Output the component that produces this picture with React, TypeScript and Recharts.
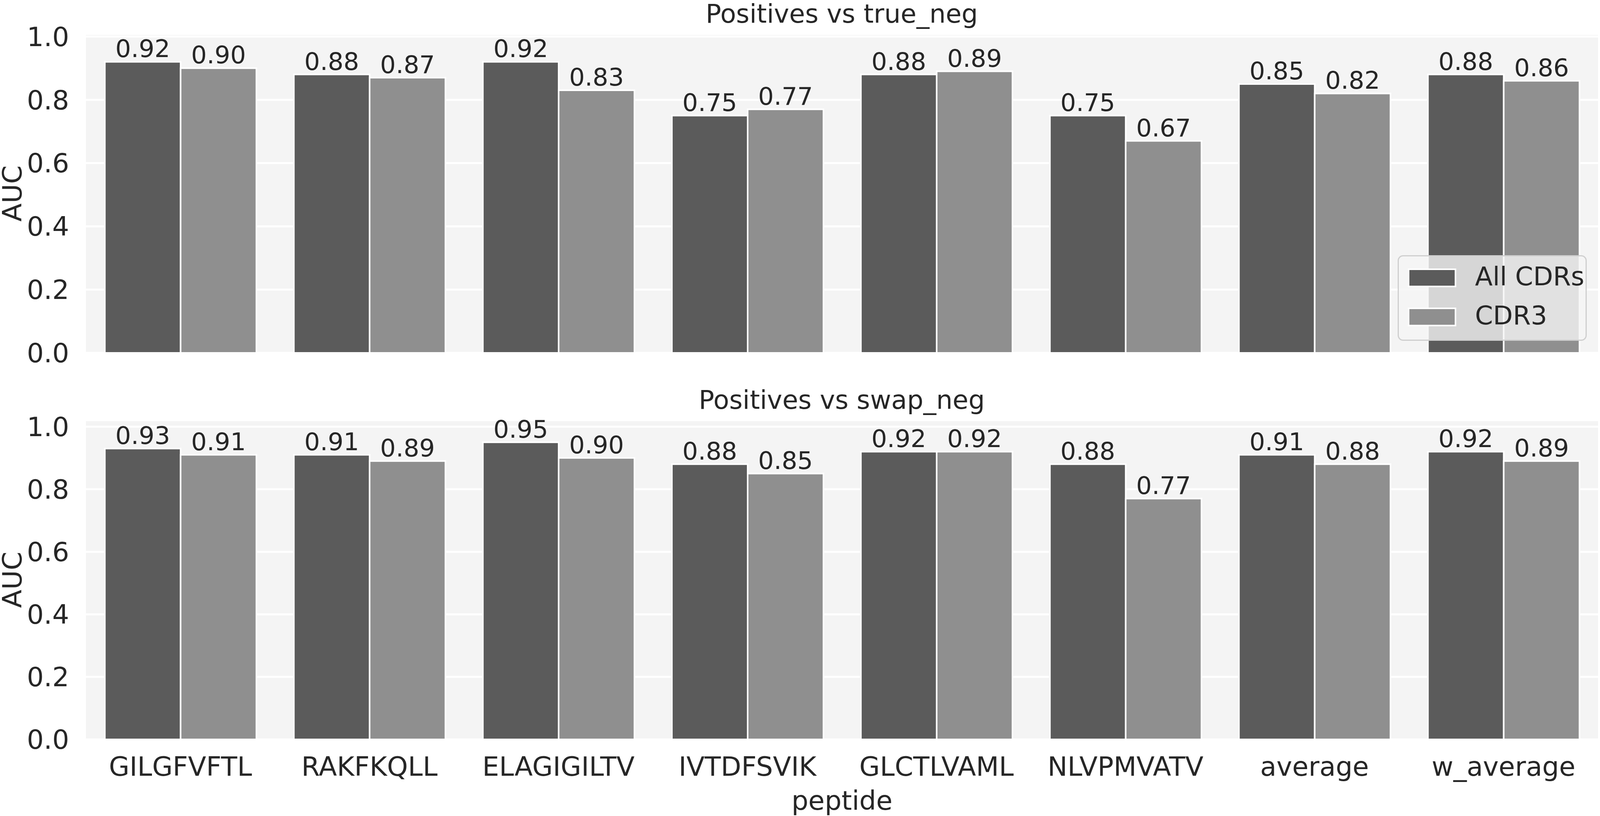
import { BarChart, Bar, XAxis, YAxis, CartesianGrid, Legend, LabelList, Label } from 'recharts';

// peptides on the shared x axis
const peptides = ['GILGFVFTL', 'RAKFKQLL', 'ELAGIGILTV', 'IVTDFSVIK', 'GLCTLVAML', 'NLVPMVATV', 'average', 'w_average'];

// Positives vs true_neg
const trueNegAll = [0.92, 0.88, 0.92, 0.75, 0.88, 0.75, 0.85, 0.88];
const trueNegCdr3 = [0.9, 0.87, 0.83, 0.77, 0.89, 0.67, 0.82, 0.86];

// Positives vs swap_neg
const swapNegAll = [0.93, 0.91, 0.95, 0.88, 0.92, 0.88, 0.91, 0.92];
const swapNegCdr3 = [0.91, 0.89, 0.9, 0.85, 0.92, 0.77, 0.88, 0.89];

const yTicks = [0, 0.2, 0.4, 0.6, 0.8, 1.0];

const colors = {
  all: '#5b5b5b',
  cdr3: '#8f8f8f',
  panel: '#f4f4f4',
  text: '#262626',
};

const font = 'DejaVu Sans';
// the browser window is 4096 wide, so the whole figure is laid out at that width
const W = 4096;

const toRows = (all: number[], cdr3: number[]) =>
  peptides.map((peptide, i) => ({ peptide, all: all[i], cdr3: cdr3[i] }));

const tickStyle = { fontSize: 68, fill: colors.text, fontFamily: font };

const aucLabel = (props: any) => {
  const vb = props.viewBox || {};
  const cy = vb.y + vb.height / 2;
  return (
    <text x={55} y={cy} transform={`rotate(-90 55 ${cy})`} textAnchor="middle" fontSize={68} fill={colors.text} fontFamily={font}>
      AUC
    </text>
  );
};

const peptideLabel = (props: any) => {
  const vb = props.viewBox || {};
  return (
    <text x={vb.x + vb.width / 2} y={1112} textAnchor="middle" fontSize={68} fill={colors.text} fontFamily={font}>
      peptide
    </text>
  );
};

const LegendBox = (props: any) => {
  const items = props.payload || [];
  return (
    <div
      style={{
        position: 'relative',
        width: 478,
        height: 213,
        border: '3px solid #cfcfcf',
        borderRadius: 14,
        background: 'rgba(245,245,245,0.8)',
        fontFamily: font,
      }}
    >
      {items.map((it: any, i: number) => (
        <div key={it.value} style={{ position: 'absolute', left: 0, top: 0, width: '100%' }}>
          <svg style={{ position: 'absolute', left: 22, top: 30 + i * 100 }} width={130} height={54}>
            <rect x={3} y={3} width={120} height={44} fill={it.color} stroke="#ffffff" strokeWidth={4} />
          </svg>
          <div
            style={{
              position: 'absolute',
              left: 195,
              top: 12 + i * 100,
              fontSize: 66,
              lineHeight: '80px',
              color: colors.text,
              whiteSpace: 'nowrap',
            }}
          >
            {it.value}
          </div>
        </div>
      ))}
    </div>
  );
};

const fmt = (v: any) => Number(v).toFixed(2);

const Panel = ({ rows, top, height, margin, domainMax, showX, showLegend }: any) => (
  <div style={{ position: 'absolute', left: 0, top, width: W, height }}>
    <BarChart width={W} height={height} data={rows} margin={margin} barCategoryGap="10%" barGap={0}>
      <CartesianGrid vertical={false} stroke="#ffffff" strokeWidth={5} fill={colors.panel} fillOpacity={1} />
      <XAxis
        dataKey="peptide"
        hide={!showX}
        height={showX ? 196 : 0}
        axisLine={false}
        tickLine={false}
        tickSize={0}
        tickMargin={45}
        tick={tickStyle}
        interval={0}
      >
        {showX && <Label content={peptideLabel} />}
      </XAxis>
      <YAxis
        type="number"
        domain={[0, domainMax]}
        ticks={yTicks}
        width={220}
        axisLine={false}
        tickLine={false}
        tickSize={0}
        tickMargin={43}
        tick={tickStyle}
        tickFormatter={(v: number) => v.toFixed(1)}
      >
        <Label content={aucLabel} />
      </YAxis>
      {showLegend && (
        <Legend
          layout="vertical"
          align="center"
          verticalAlign="middle"
          content={LegendBox}
          wrapperStyle={{ left: 3578, top: 653, width: 484, height: 219 }}
        />
      )}
      <Bar dataKey="all" name="All CDRs" fill={colors.all} stroke="#ffffff" strokeWidth={4} isAnimationActive={false}>
        <LabelList dataKey="all" position="top" offset={12} formatter={fmt} style={{ fontSize: 63, fill: colors.text, fontFamily: font }} />
      </Bar>
      <Bar dataKey="cdr3" name="CDR3" fill={colors.cdr3} stroke="#ffffff" strokeWidth={4} isAnimationActive={false}>
        <LabelList dataKey="cdr3" position="top" offset={12} formatter={fmt} style={{ fontSize: 63, fill: colors.text, fontFamily: font }} />
      </Bar>
    </BarChart>
  </div>
);

export default function App() {
  return (
    <div style={{ position: 'absolute', left: 0, top: 0, width: W, height: 2088, background: '#ffffff', fontFamily: font }}>
      <Panel
        rows={toRows(trueNegAll, trueNegCdr3)}
        top={0}
        height={1000}
        margin={{ top: 87, right: 5, bottom: 97, left: 0 }}
        domainMax={1.008}
        showX={false}
        showLegend
      />
      <Panel
        rows={toRows(swapNegAll, swapNegCdr3)}
        top={960}
        height={1128}
        margin={{ top: 115, right: 5, bottom: 0, left: 0 }}
        domainMax={1.021}
        showX
        showLegend={false}
      />
      <svg style={{ position: 'absolute', left: 0, top: 0, pointerEvents: 'none' }} width={W} height={2088}>
        <text x={2155} y={58} textAnchor="middle" fontSize={66} fill={colors.text} fontFamily={font}>
          Positives vs true_neg
        </text>
        <text x={2155} y={1046} textAnchor="middle" fontSize={66} fill={colors.text} fontFamily={font}>
          Positives vs swap_neg
        </text>
      </svg>
    </div>
  );
}
